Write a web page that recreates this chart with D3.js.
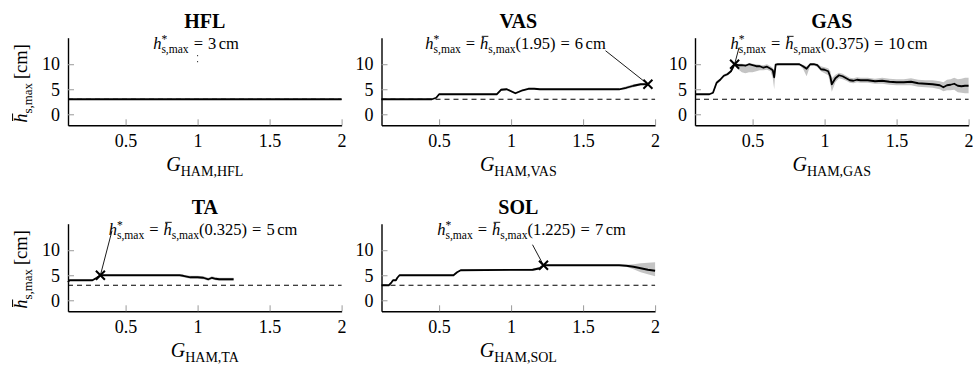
<!DOCTYPE html>
<html>
<head>
<meta charset="utf-8">
<script src="https://cdn.jsdelivr.net/npm/d3@7"></script>
<style>
  body { margin: 0; background: #fff; }
  svg text { font-family: "Liberation Serif", "Times New Roman", "DejaVu Serif", serif; }
</style>
</head>
<body>
<div id="chart"></div>
<script>
// Mean max. step height over the HAM gain, one panel per muscle

// HFL
var hflG = [0.1, 2.0];
var hflMean = [3, 3];

// VAS
var vasG =    [0.1, 0.45, 0.48, 0.5, 0.9, 0.93, 0.97, 1.0, 1.03, 1.08, 1.12, 1.16, 1.2, 1.75, 1.8, 1.85, 1.9, 1.95];
var vasMean = [3,   3,    3.3,  4,   4,   4.9,  5,    4.6, 4.2,  4.8,  5.1,  5.1,  5,   5,    5.3, 5.7,  6,   6];
var vasLo =   [3,   3,    3.2,  3.9, 3.9, 4.7,  4.8,  4.4, 4.0,  4.6,  5.0,  5.0,  4.9, 4.9,  5.0, 5.4,  5.8, 5.9];
var vasHi =   [3,   3,    3.4,  4.1, 4.1, 5.1,  5.2,  4.8, 4.4,  5.0,  5.2,  5.2,  5.1, 5.1,  5.6, 6.0,  6.2, 6.1];

// GAS
var gasG = [0.1, 0.2, 0.225, 0.25, 0.275, 0.3, 0.325, 0.35, 0.375, 0.4, 0.425, 0.45, 0.475, 0.5, 0.525,
            0.55, 0.575, 0.6, 0.625, 0.64, 0.65, 0.66, 0.675, 0.7, 0.75, 0.8, 0.825, 0.85, 0.875, 0.9,
            0.925, 0.95, 0.975, 1.0, 1.025, 1.04, 1.05, 1.075, 1.1, 1.125, 1.15, 1.175, 1.2, 1.225, 1.25,
            1.3, 1.35, 1.4, 1.45, 1.5, 1.55, 1.6, 1.65, 1.7, 1.75, 1.8, 1.825, 1.85, 1.875, 1.9, 1.925,
            1.95, 1.975, 2.0];
var gasMean = [4, 4, 4.3, 6.3, 6.9, 7.7, 8, 8.6, 10, 9.8, 9.8, 9.7, 10, 9.8, 9.6,
               9.6, 9.3, 9.5, 9.1, 8.8, 7.4, 9.9, 10, 10, 10, 10, 10, 9.6, 9.1, 10,
               10, 9.8, 9, 8.9, 8.6, 7.5, 6, 7.2, 7.8, 7.6, 7.2, 6.8, 6.7, 6.9, 6.8,
               6.8, 6.6, 6.7, 6.5, 6.4, 6.4, 6.5, 6.2, 6.1, 6, 5.8, 5.4, 5.8, 5.9, 6.1, 5.7,
               5.6, 5.7, 5.7];
var gasLo = [4, 4, 4.1, 6.0, 6.6, 7.4, 7.7, 8.3, 9.7, 9.0, 8.4, 8.2, 8.4, 8.4, 8.6,
             8.8, 8.8, 8.9, 8.6, 7.2, 5.0, 9.5, 9.8, 9.9, 9.9, 9.9, 9.8, 9.1, 7.6, 9.7,
             9.8, 9.4, 8.6, 8.2, 7.8, 6.0, 4.5, 6.4, 7.2, 7.0, 6.7, 6.3, 6.2, 6.4, 6.3,
             6.3, 6.1, 6.1, 5.9, 5.8, 5.8, 5.8, 5.5, 5.4, 5.3, 5.0, 4.6, 4.8, 4.8, 4.9, 4.4,
             4.3, 4.2, 4.2];
var gasHi = [4, 4, 4.5, 6.6, 7.2, 8.0, 8.3, 8.9, 10.2, 10.1, 10.1, 10.0, 10.2, 10.1, 10.0,
             9.9, 9.8, 10.0, 9.6, 9.3, 8.6, 10.1, 10.1, 10.1, 10.1, 10.1, 10.1, 9.9, 9.6, 10.1,
             10.1, 10.1, 9.6, 9.4, 9.2, 8.6, 7.2, 7.9, 8.3, 8.1, 7.7, 7.3, 7.2, 7.4, 7.3,
             7.3, 7.1, 7.3, 7.1, 7.0, 7.0, 7.2, 6.9, 6.8, 6.8, 6.6, 6.4, 6.9, 7.0, 7.3, 7.0,
             7.1, 7.3, 7.3];

// TA
var taG =    [0.1, 0.11, 0.125, 0.27, 0.3, 0.325, 0.875, 0.9, 0.95, 1.0, 1.04, 1.075, 1.1, 1.125, 1.15, 1.2, 1.25];
var taMean = [3.6, 4,    4,     4,    4.5, 5,     5,     4.9, 4.6,  4.6, 4.5,  4.2,   4.5, 4.3,   4.2,  4.2, 4.2];
var taLo =   [3.5, 3.9,  3.9,   3.9,  4.4, 4.9,   4.9,   4.6, 4.3,  4.3, 4.2,  3.9,   4.2, 4.0,   3.9,  3.9, 3.9];
var taHi =   [3.7, 4.1,  4.1,   4.1,  4.6, 5.1,   5.1,   5.1, 4.9,  4.9, 4.8,  4.5,   4.8, 4.6,   4.5,  4.5, 4.5];

// SOL
var solG =    [0.1, 0.15, 0.17, 0.18, 0.2, 0.21, 0.225, 0.6, 0.625, 0.65, 1.15, 1.2, 1.225, 1.75, 1.8, 1.85, 1.9, 1.95, 2.0];
var solMean = [3,   3,    3.6,  4,    4,   4.5,  5,     5,   5.6,   6,    6.1,  6.4, 7,     7,    6.9, 6.7,  6.4, 6.1,  5.9];
var solLo =   [2.9, 2.9,  3.5,  3.9,  3.9, 4.4,  4.9,   4.9, 5.5,   5.9,  5.9,  6.1, 6.9,   6.9,  6.7, 6.2,  5.6, 5.2,  4.8];
var solHi =   [3.1, 3.1,  3.7,  4.1,  4.1, 4.6,  5.1,   5.1, 5.7,   6.1,  6.3,  6.7, 7.1,   7.1,  7.1, 7.2,  7.4, 7.5,  7.6];

// optimum per muscle (G, h)
var muscles = ["HFL", "VAS", "GAS", "TA", "SOL"];
var optG = [1.0, 1.95, 0.375, 0.325, 1.225];
var optH = [3, 6, 10, 5, 7];
var optLabel = ["", "1.95", "0.375", "0.325", "1.225"];
var restH = 3;

var xTicks = [0.5, 1, 1.5, 2];
var yTicks = [0, 5, 10];

var series = [
  {G: hflG, mean: hflMean, lo: null, hi: null},
  {G: vasG, mean: vasMean, lo: vasLo, hi: vasHi},
  {G: gasG, mean: gasMean, lo: gasLo, hi: gasHi},
  {G: taG, mean: taMean, lo: taLo, hi: taHi},
  {G: solG, mean: solMean, lo: solLo, hi: solHi}
];

// layout
var W = 973, H = 365;
var plotW = 273.6, plotH = 87.6;
var colX = [68, 381.5, 695];
var rowY = [37.7, 223.7];
var FONT = "'Liberation Serif', 'Times New Roman', serif";
// annotation text centre / baseline and pin start, relative to plot box
var annot = [
  {cx: 128, by: 11.5, px: null, py: null},
  {cx: 134, by: 11.5, px: 224, py: 13},
  {cx: 134, by: 11.5, px: 44, py: 10},
  {cx: 135, by: 11.5, px: 44, py: 7},
  {cx: 150, by: 11.5, px: 151, py: 21}
];

var svg = d3.select("#chart").append("svg")
  .attr("width", W)
  .attr("height", H)
  .style("font-family", FONT);

var x = d3.scaleLinear().domain([0.1, 2]).range([0, plotW]);
var y = d3.scaleLinear().domain([-2.2, 15.3]).range([plotH, 0]);

// write a small math expression, returns its width
function mathText(parent, parts, size) {
  var g = parent.append("g");
  var cx = 0, lastSup = null;
  parts.forEach(function(p) {
    if (p.sp) { cx += p.sp; lastSup = null; return; }
    var fs = p.pos ? size * 0.7 : size;
    var dy = p.pos === "sup" ? -size * 0.4 : p.pos === "sub" ? size * 0.25 : 0;
    var x0 = (p.pos === "sub" && lastSup) ? lastSup.x : cx;
    var t = g.append("text")
      .attr("x", x0)
      .attr("y", dy)
      .style("font-family", FONT)
      .style("font-size", fs + "px")
      .style("font-style", p.it ? "italic" : "normal")
      .attr("fill", "#000")
      .text(p.t);
    var w = t.node().getComputedTextLength();
    if (p.bar) {
      g.append("line")
        .attr("x1", x0 + w * 0.2).attr("x2", x0 + w * 1.0)
        .attr("y1", -size * 0.78).attr("y2", -size * 0.78)
        .attr("stroke", "#000").attr("stroke-width", size * 0.055);
    }
    if (p.pos === "sub" && lastSup) cx = Math.max(lastSup.x + lastSup.w, x0 + w);
    else cx = x0 + w;
    lastSup = p.pos === "sup" ? {x: x0, w: w} : null;
  });
  return {g: g, width: cx};
}

muscles.forEach(function(name, i) {
  var col = i < 3 ? i : i - 3;
  var row = i < 3 ? 0 : 1;
  var s = series[i];
  var pts = s.G.map(function(g, k) {
    return {g: g, m: s.mean[k], lo: s.lo ? s.lo[k] : s.mean[k], hi: s.hi ? s.hi[k] : s.mean[k]};
  });

  var panel = svg.append("g")
    .attr("transform", "translate(" + colX[col] + "," + rowY[row] + ")");

  // title
  panel.append("text")
    .attr("x", plotW / 2)
    .attr("y", -9.5)
    .attr("text-anchor", "middle")
    .style("font-family", FONT)
    .style("font-size", "20px")
    .style("font-weight", "bold")
    .text(name);

  // axes
  var xa = panel.append("g")
    .attr("transform", "translate(0," + plotH + ")")
    .call(d3.axisBottom(x).tickValues(xTicks).tickFormat(d3.format("~g"))
      .tickSizeInner(-6).tickSizeOuter(0).tickPadding(9));
  var ya = panel.append("g")
    .call(d3.axisLeft(y).tickValues(yTicks).tickFormat(d3.format("d"))
      .tickSizeInner(-6).tickSizeOuter(0).tickPadding(8));
  [xa, ya].forEach(function(a) {
    a.attr("font-family", null).attr("font-size", null);
    a.select(".domain").attr("stroke", "#000").attr("stroke-width", 1.4);
    a.selectAll(".tick line").attr("stroke", "#9a9a9a").attr("stroke-width", 1);
    a.selectAll(".tick text").attr("fill", "#000")
      .style("font-family", FONT).style("font-size", "18px");
  });

  // band
  if (s.lo) {
    panel.append("path")
      .datum(pts)
      .attr("fill", "#c4c4c4")
      .attr("d", d3.area()
        .x(function(d) { return x(d.g); })
        .y0(function(d) { return y(d.lo); })
        .y1(function(d) { return y(d.hi); }));
  }

  // rest height (dashed)
  panel.append("line")
    .attr("x1", x(0.1)).attr("x2", x(2))
    .attr("y1", y(restH)).attr("y2", y(restH))
    .attr("stroke", "#000")
    .attr("stroke-width", 1.2)
    .attr("stroke-dasharray", "5,4");

  // mean line
  panel.append("path")
    .datum(pts)
    .attr("fill", "none")
    .attr("stroke", "#000")
    .attr("stroke-width", 1.8)
    .attr("stroke-linejoin", "round")
    .attr("d", d3.line()
      .x(function(d) { return x(d.g); })
      .y(function(d) { return y(d.m); }));

  // annotation
  var a = annot[i];
  var ox = x(optG[i]), oy = y(optH[i]);
  if (a.px !== null) {
    panel.append("line")
      .attr("x1", a.px).attr("y1", a.py)
      .attr("x2", ox).attr("y2", oy)
      .attr("stroke", "#000").attr("stroke-width", 0.9);
    // cross marker
    var m = 4.5;
    panel.append("path")
      .attr("d", "M" + (ox - m) + "," + (oy - m) + "L" + (ox + m) + "," + (oy + m) +
                 "M" + (ox - m) + "," + (oy + m) + "L" + (ox + m) + "," + (oy - m))
      .attr("stroke", "#000").attr("stroke-width", 2);
  } else {
    panel.append("line")
      .attr("x1", ox).attr("x2", ox)
      .attr("y1", a.by + 6).attr("y2", a.by + 14)
      .attr("stroke", "#000").attr("stroke-width", 1)
      .attr("stroke-dasharray", "1,5");
  }

  var parts = [{t: "h", it: true}, {t: "*", pos: "sup"}, {t: "s,max", pos: "sub"}, {sp: 5}, {t: "="}, {sp: 5}];
  if (optLabel[i]) {
    parts = parts.concat([{t: "h", it: true, bar: true}, {t: "s,max", pos: "sub"},
      {t: "(" + optLabel[i] + ")"}, {sp: 5}, {t: "="}, {sp: 5}]);
  }
  parts = parts.concat([{t: String(optH[i])}, {sp: 2.5}, {t: "cm"}]);
  var mt = mathText(panel, parts, 16.5);
  mt.g.attr("transform", "translate(" + (a.cx - mt.width / 2) + "," + a.by + ")");

  // x label
  var xl = mathText(panel, [{t: "G", it: true}, {t: "HAM," + name, pos: "sub"}], 20);
  xl.g.attr("transform", "translate(" + (plotW / 2 - xl.width / 2) + "," + (plotH + 46) + ")");

  // y label (first column only)
  if (col === 0) {
    var yl = mathText(panel, [{t: "h", it: true, bar: true}, {t: "s,max", pos: "sub"}, {sp: 4}, {t: "[cm]"}], 18.5);
    yl.g.attr("transform", "translate(" + (27 - colX[0]) + "," + (plotH / 2 + yl.width / 2 + 2) + ") rotate(-90)");
  }
});
</script>
</body>
</html>
